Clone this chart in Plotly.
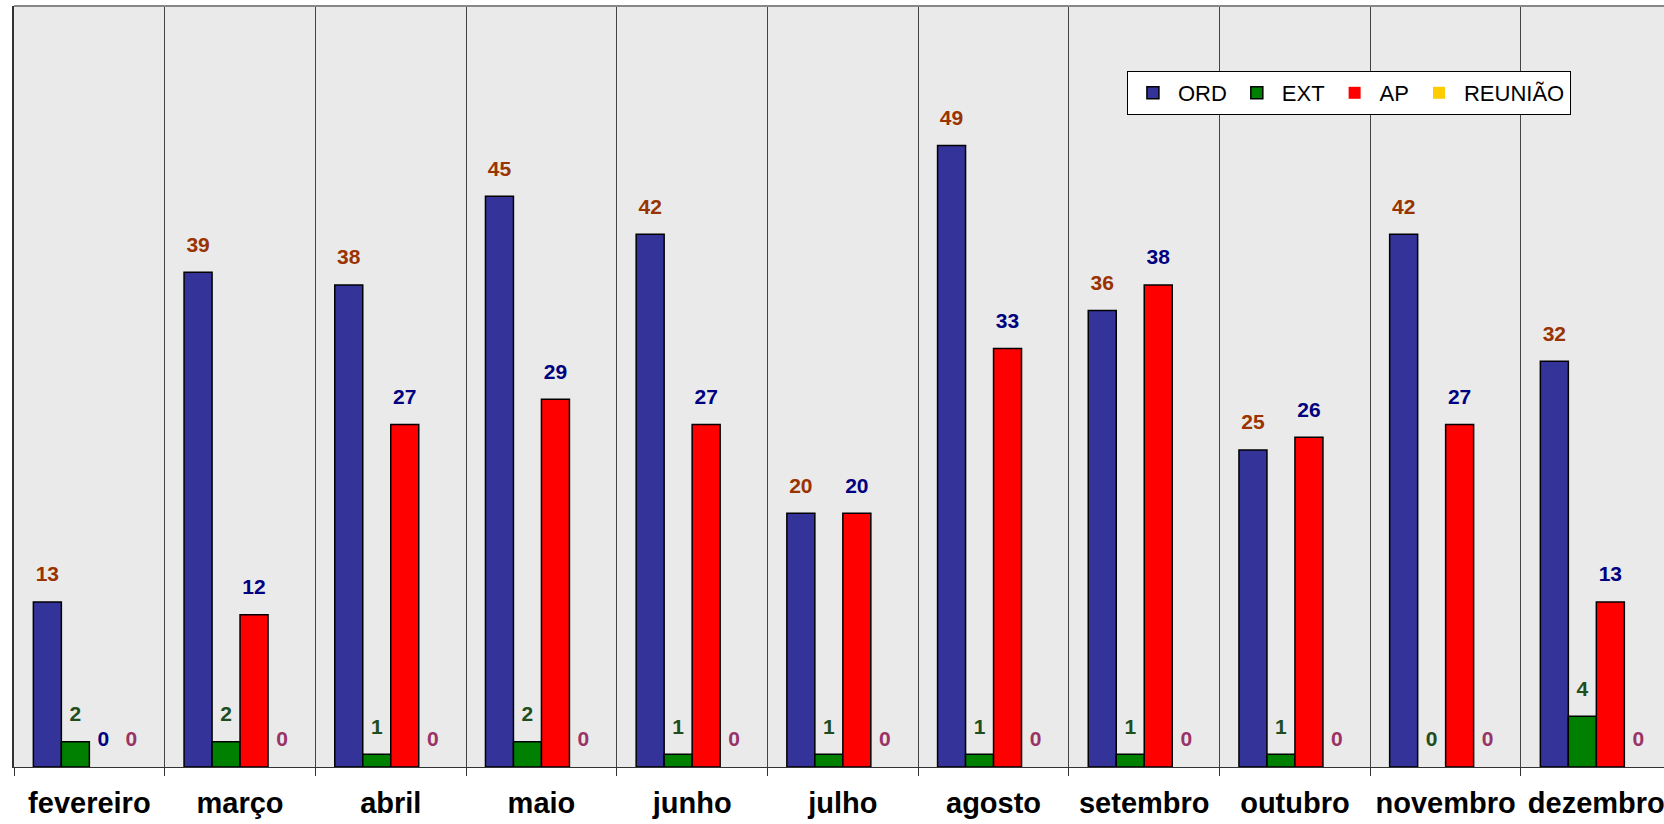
import plotly.graph_objects as go

months = ["fevereiro", "março", "abril", "maio", "junho", "julho",
          "agosto", "setembro", "outubro", "novembro", "dezembro"]
ord_vals = [13, 39, 38, 45, 42, 20, 49, 36, 25, 42, 32]
ext_vals = [2, 2, 1, 2, 1, 1, 1, 1, 1, 0, 4]
ap_vals = [0, 12, 27, 29, 27, 20, 33, 38, 26, 27, 13]
reuniao_vals = [0, 0, 0, 0, 0, 0, 0, 0, 0, 0, 0]

series_names = ["ORD", "EXT", "AP", "REUNIÃO"]
series_values = [ord_vals, ext_vals, ap_vals, reuniao_vals]
bar_colors = ["#333399", "#008000", "#FF0000", "#FFCC00"]
label_colors = ["#993300", "#1E4D1E", "#000080", "#993366"]

FONT = "Liberation Sans, Arial, sans-serif"

fig = go.Figure()
for name, vals, bc in zip(series_names, series_values, bar_colors):
    fig.add_trace(go.Bar(
        x=months, y=vals, name=name, offsetgroup=name,
        marker=dict(color=bc, line=dict(color="#000000",
                                        width=[1.5 if v else 0 for v in vals])),
        hoverinfo="skip",
    ))
for name, vals, lc in zip(series_names, series_values, label_colors):
    fig.add_trace(go.Scatter(
        x=months, y=vals, mode="markers+text", offsetgroup=name,
        text=[str(v) for v in vals], textposition="top center",
        marker=dict(size=23, opacity=0),
        textfont=dict(size=21, color=lc, family=FONT, weight="bold"),
        showlegend=False, hoverinfo="skip", cliponaxis=False,
    ))

fig.update_layout(
    width=1664, height=824,
    margin=dict(l=14, r=0, t=6, b=57),
    paper_bgcolor="#FFFFFF",
    plot_bgcolor="#EAEAEA",
    barmode="group", bargap=0.257, bargroupgap=0,
    scattermode="group", scattergap=0.257,
    font=dict(family=FONT, color="#000000"),
    showlegend=True,
    legend=dict(
        orientation="h", x=0.6745, y=0.9146, xanchor="left", yanchor="top",
        bgcolor="#FFFFFF", bordercolor="#000000", borderwidth=1,
        font=dict(size=22, family=FONT, color="#000000"),
        traceorder="normal", itemwidth=40,
    ),
    xaxis=dict(
        range=[-0.5, 10.449], tickson="boundaries", ticks="outside",
        ticklen=8, tickcolor="#333333", showgrid=True, gridcolor="#444444",
        gridwidth=1, showline=True, linecolor="#333333", linewidth=1,
        tickfont=dict(size=29, family=FONT, weight="bold", color="#000000"),
        ticklabelstandoff=10, fixedrange=True,
    ),
    yaxis=dict(
        range=[0, 60], showticklabels=False, showgrid=False, zeroline=False,
        showline=True, linecolor="#333333", linewidth=1.5, ticks="",
        fixedrange=True,
    ),
    shapes=[dict(type="line", xref="paper", yref="paper", x0=0, x1=1,
                 y0=1, y1=1, line=dict(color="#888888", width=2))],
)

fig.write_html("out.html", config={"displayModeBar": False},
               post_script="document.body.style.margin='0';")
